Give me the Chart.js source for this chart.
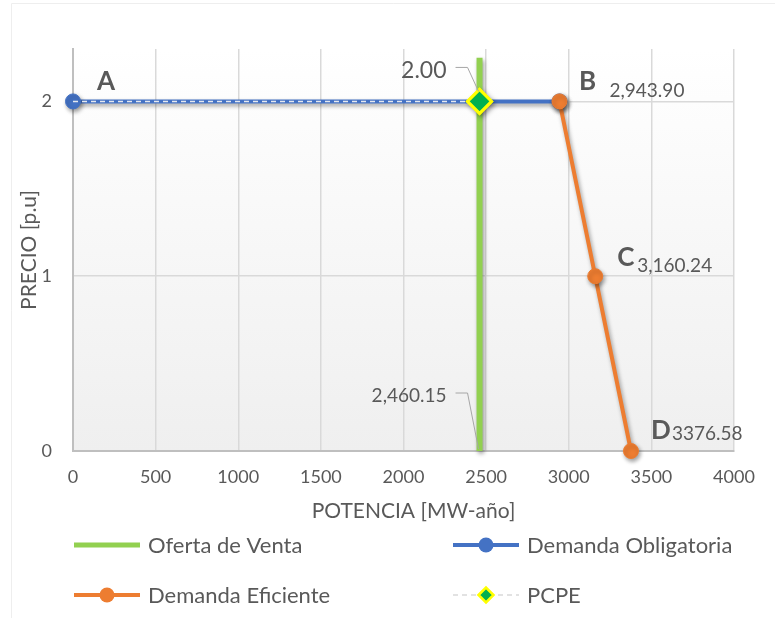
<!DOCTYPE html>
<html>
<head>
<meta charset="utf-8">
<script src="https://cdn.jsdelivr.net/npm/chart.js@4/dist/chart.umd.min.js"></script>
<style>
  html, body { margin: 0; padding: 0; background: #ffffff; }
  #wrap { width: 775px; height: 618px; position: relative; }
  canvas { display: block; }
</style>
</head>
<body>
<div id="wrap"><canvas id="grafico" width="775" height="618"></canvas></div>
<script>
// Curvas de oferta y demanda de potencia (precio en p.u. frente a MW-año)
const potenciaOferta = [2460.15, 2460.15];
const precioOferta = [0, 2.25];

const potenciaObligatoria = [0, 2943.90];
const precioObligatoria = [2, 2];

const potenciaEficiente = [2943.90, 3160.24, 3376.58];
const precioEficiente = [2, 1, 0];

const potenciaPCPE = [0, 2460.15];
const precioPCPE = [2, 2];

// Puntos notables A-D de la curva de demanda y sus etiquetas
const puntosLetra = ['A', 'B', 'C', 'D'];
const puntosPotencia = [0, 2943.90, 3160.24, 3376.58];
const puntosPrecio = [2, 2, 1, 0];
const puntosTexto = ['', '2,943.90', '3,160.24', '3376.58'];

// Etiquetas del punto de cruce PCPE
const pcpeTextoPrecio = '2.00';
const pcpeTextoPotencia = '2,460.15';

const ejeXMin = 0, ejeXMax = 4000, ejeXPaso = 500;
const ejeYMin = 0, ejeYMax = 2.3, ejeYPaso = 1;

const GRIS_TEXTO = '#595959';
const FUENTE = 'Lato, "Open Sans", sans-serif';

const aPuntos = (xs, ys) => xs.map((x, i) => ({ x: x, y: ys[i] }));

// Fondo degradado del área de trazado y marco exterior
const fondoPlugin = {
  id: 'fondo',
  beforeDraw(chart) {
    const { ctx, chartArea: a } = chart;
    ctx.save();
    ctx.strokeStyle = '#eeeeee';
    ctx.lineWidth = 1;
    ctx.beginPath();
    ctx.moveTo(11.5, 618);
    ctx.lineTo(11.5, 3.5);
    ctx.lineTo(775, 3.5);
    ctx.stroke();
    const g = ctx.createLinearGradient(0, a.top, 0, a.bottom);
    g.addColorStop(0, '#ffffff');
    g.addColorStop(1, '#efefef');
    ctx.fillStyle = g;
    ctx.fillRect(a.left, a.top, a.right - a.left, a.bottom - a.top);
    ctx.restore();
  }
};

// Sombra suave bajo las series
const sombraPlugin = {
  id: 'sombra',
  beforeDatasetDraw(chart, args) {
    const ds = chart.data.datasets[args.index];
    const ctx = chart.ctx;
    ctx.save();
    if (ds.label === 'PCPE') {
      // sombra solo del rombo
      const xs = chart.scales.x, ys = chart.scales.y;
      const px = xs.getPixelForValue(potenciaPCPE[1]);
      const py = ys.getPixelForValue(precioPCPE[1]);
      ctx.shadowColor = 'rgba(0,0,0,0.45)';
      ctx.shadowBlur = 5;
      ctx.shadowOffsetX = 2;
      ctx.shadowOffsetY = 2.5;
      ctx.fillStyle = '#ffff00';
      ctx.beginPath();
      const r = 14;
      ctx.moveTo(px - r, py); ctx.lineTo(px, py - r); ctx.lineTo(px + r, py); ctx.lineTo(px, py + r);
      ctx.closePath();
      ctx.fill();
      ctx.shadowColor = 'transparent';
    } else {
      ctx.shadowColor = 'rgba(0,0,0,0.38)';
      ctx.shadowBlur = 4;
      ctx.shadowOffsetX = 1.5;
      ctx.shadowOffsetY = 2.5;
    }
  },
  afterDatasetDraw(chart) {
    chart.ctx.restore();
  }
};

// Etiquetas de datos con letras, valores y líneas guía
const etiquetasPlugin = {
  id: 'etiquetas',
  afterDatasetsDraw(chart) {
    const { ctx } = chart;
    const xs = chart.scales.x, ys = chart.scales.y;
    ctx.save();
    ctx.fillStyle = GRIS_TEXTO;
    ctx.textBaseline = 'alphabetic';
    const desp = [
      { lx: 24, ly: -11, vx: 0, vy: 0 },
      { lx: 19.5, ly: -11, vx: 50, vy: -4 },
      { lx: 22, ly: -10, vx: 42, vy: -4 },
      { lx: 20, ly: -12, vx: 41, vy: -11 }
    ];
    puntosLetra.forEach((letra, i) => {
      const px = xs.getPixelForValue(puntosPotencia[i]);
      const py = ys.getPixelForValue(puntosPrecio[i]);
      const d = desp[i];
      ctx.textAlign = 'left';
      ctx.font = 'bold 26px ' + FUENTE;
      ctx.fillText(letra, px + d.lx, py + d.ly);
      if (puntosTexto[i]) {
        ctx.font = '19px ' + FUENTE;
        ctx.fillText(puntosTexto[i], px + d.vx, py + d.vy);
      }
    });

    const cx = xs.getPixelForValue(potenciaPCPE[1]);
    const cy = ys.getPixelForValue(precioPCPE[1]);
    const by = ys.getPixelForValue(0);
    ctx.textAlign = 'right';
    ctx.font = '23px ' + FUENTE;
    ctx.fillText(pcpeTextoPrecio, cx - 33, cy - 23);
    ctx.font = '19px ' + FUENTE;
    ctx.fillText(pcpeTextoPotencia, cx - 33, by - 49);

    ctx.strokeStyle = '#a6a6a6';
    ctx.lineWidth = 1;
    ctx.beginPath();
    ctx.moveTo(cx - 24, cy - 34); ctx.lineTo(cx - 12, cy - 34); ctx.lineTo(cx - 1, cy - 10);
    ctx.moveTo(cx - 24, by - 58); ctx.lineTo(cx - 12, by - 58); ctx.lineTo(cx - 1, by - 2);
    ctx.stroke();
    ctx.restore();
  }
};

// Título del eje X, centrado algo a la derecha del área de trazado
const tituloXPlugin = {
  id: 'tituloX',
  afterDraw(chart) {
    const { ctx, chartArea: a } = chart;
    ctx.save();
    ctx.fillStyle = GRIS_TEXTO;
    ctx.font = '21px ' + FUENTE;
    ctx.textAlign = 'center';
    ctx.textBaseline = 'alphabetic';
    ctx.fillText('POTENCIA [MW-año]', (a.left + a.right) / 2 + 10, a.bottom + 67);
    ctx.restore();
  }
};

// Leyenda en dos columnas bajo el gráfico
const leyendaPlugin = {
  id: 'leyenda',
  afterDraw(chart) {
    const { ctx } = chart;
    const porNombre = {};
    chart.data.datasets.forEach(ds => { porNombre[ds.label] = ds; });
    const orden = ['Oferta de Venta', 'Demanda Obligatoria', 'Demanda Eficiente', 'PCPE'];
    const columnas = [74, 453];
    const filas = [545, 595];
    ctx.save();
    orden.forEach((nombre, i) => {
      const ds = porNombre[nombre];
      const x0 = columnas[i % 2];
      const y = filas[Math.floor(i / 2)];
      const x1 = x0 + 66;
      const xm = (x0 + x1) / 2;
      ctx.beginPath();
      if (nombre === 'PCPE') {
        ctx.strokeStyle = '#d9d9d9';
        ctx.lineWidth = 1.5;
        ctx.setLineDash([5, 4]);
      } else {
        ctx.strokeStyle = ds.borderColor;
        ctx.lineWidth = nombre === 'Oferta de Venta' ? 5 : 4;
        ctx.setLineDash([]);
      }
      ctx.moveTo(x0, y); ctx.lineTo(x1, y);
      ctx.stroke();
      ctx.setLineDash([]);
      if (nombre === 'PCPE') {
        const r = 7.5;
        ctx.beginPath();
        ctx.moveTo(xm - r, y); ctx.lineTo(xm, y - r); ctx.lineTo(xm + r, y); ctx.lineTo(xm, y + r);
        ctx.closePath();
        ctx.fillStyle = ds.pointBackgroundColor;
        ctx.fill();
        ctx.strokeStyle = ds.pointBorderColor;
        ctx.lineWidth = 2.5;
        ctx.stroke();
      } else if (nombre !== 'Oferta de Venta') {
        ctx.beginPath();
        ctx.arc(xm, y, 7.5, 0, Math.PI * 2);
        ctx.fillStyle = ds.borderColor;
        ctx.fill();
      }
      ctx.fillStyle = GRIS_TEXTO;
      ctx.font = '22px ' + FUENTE;
      ctx.textAlign = 'left';
      ctx.textBaseline = 'alphabetic';
      ctx.fillText(nombre, x1 + 8, y + 8);
    });
    ctx.restore();
  }
};

new Chart(document.getElementById('grafico'), {
  type: 'scatter',
  data: {
    datasets: [
      {
        label: 'PCPE',
        data: aPuntos(potenciaPCPE, precioPCPE),
        showLine: true,
        clip: false,
        borderColor: '#e4e8ef',
        borderWidth: 1.5,
        borderDash: [5, 4],
        pointStyle: 'rectRot',
        pointRadius: [0, 12],
        pointHoverRadius: [0, 12],
        pointBackgroundColor: '#00b050',
        pointBorderColor: '#ffff00',
        pointBorderWidth: 3,
        order: 0
      },
      {
        label: 'Demanda Eficiente',
        data: aPuntos(potenciaEficiente, precioEficiente),
        showLine: true,
        clip: false,
        borderColor: '#ed7d31',
        backgroundColor: '#ed7d31',
        borderWidth: 4,
        pointRadius: 7.5,
        pointHoverRadius: 7.5,
        pointBackgroundColor: '#ed7d31',
        pointBorderColor: '#ed7d31',
        pointBorderWidth: 1,
        order: 1
      },
      {
        label: 'Demanda Obligatoria',
        data: aPuntos(potenciaObligatoria, precioObligatoria),
        showLine: true,
        clip: false,
        borderColor: '#4472c4',
        backgroundColor: '#4472c4',
        borderWidth: 4,
        pointRadius: 7.5,
        pointHoverRadius: 7.5,
        pointBackgroundColor: '#4472c4',
        pointBorderColor: '#4472c4',
        pointBorderWidth: 1,
        order: 2
      },
      {
        label: 'Oferta de Venta',
        data: aPuntos(potenciaOferta, precioOferta),
        showLine: true,
        clip: false,
        borderColor: '#92d050',
        backgroundColor: '#92d050',
        borderWidth: 6,
        borderCapStyle: 'butt',
        pointRadius: 0,
        pointHoverRadius: 0,
        order: 3
      }
    ]
  },
  options: {
    responsive: false,
    animation: false,
    devicePixelRatio: 1,
    events: [],
    layout: { autoPadding: false, padding: { left: 0, top: 49, right: 41, bottom: 89 } },
    plugins: { legend: { display: false }, tooltip: { enabled: false }, title: { display: false } },
    scales: {
      x: {
        type: 'linear',
        min: ejeXMin,
        max: ejeXMax,
        ticks: {
          stepSize: ejeXPaso,
          color: GRIS_TEXTO,
          font: { family: FUENTE, size: 18 },
          padding: 15,
          maxRotation: 0,
          autoSkip: false,
          callback: v => String(v)
        },
        grid: { color: '#d9d9d9', lineWidth: 1.5, drawTicks: false },
        border: { display: true, color: '#bfbfbf', width: 2 },
        title: { display: false },
        afterFit(s) { s.height = 78; s.paddingLeft = 0; s.paddingRight = 0; }
      },
      y: {
        type: 'linear',
        min: ejeYMin,
        max: ejeYMax,
        ticks: {
          stepSize: ejeYPaso,
          includeBounds: false,
          color: GRIS_TEXTO,
          font: { family: FUENTE, size: 18 },
          padding: 21
        },
        grid: { color: '#d9d9d9', lineWidth: 1.5, drawTicks: false },
        border: { display: true, color: '#bfbfbf', width: 2 },
        title: {
          display: true,
          text: 'PRECIO [p.u]',
          color: GRIS_TEXTO,
          font: { family: FUENTE, size: 21 },
          padding: { top: 17, bottom: 0 }
        },
        afterFit(s) { s.width = 73; s.paddingTop = 0; s.paddingBottom = 0; }
      }
    }
  },
  plugins: [fondoPlugin, sombraPlugin, etiquetasPlugin, tituloXPlugin, leyendaPlugin]
});
</script>
</body>
</html>
